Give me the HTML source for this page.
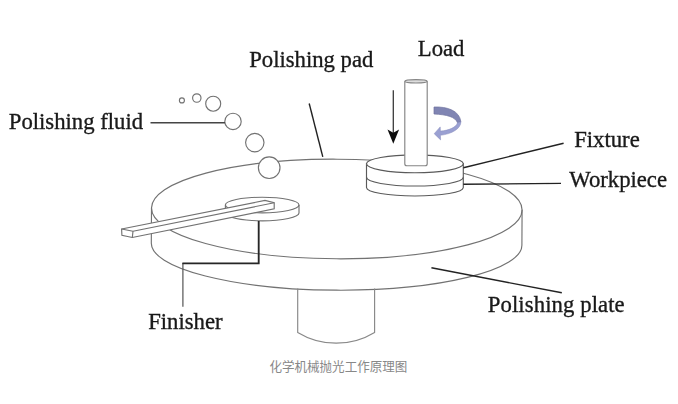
<!DOCTYPE html>
<html><head><meta charset="utf-8">
<style>
html,body{margin:0;padding:0;background:#fff;}
body{width:678px;height:404px;overflow:hidden;position:relative;}
svg{position:absolute;left:0;top:0;display:block;}
.lbl{font-family:"Liberation Serif","Times New Roman",serif;font-size:22.7px;fill:#1a1a1a;stroke:#1a1a1a;stroke-width:0.35px;}
.cap{position:absolute;left:-0.6px;top:357.6px;width:678px;text-align:center;font-family:"Liberation Sans","Noto Sans CJK SC",sans-serif;font-size:12.55px;line-height:18px;color:#888;}
</style></head>
<body>
<svg width="678" height="404" viewBox="0 0 678 404">
<defs><filter id="b" x="-5%" y="-5%" width="110%" height="110%"><feGaussianBlur stdDeviation="0.45"/></filter></defs>
<g filter="url(#b)">
<g fill="none" stroke="#727272" stroke-width="1.15">
  <!-- main plate -->
  <g transform="rotate(0.3 336.7 226)">
  <ellipse cx="336.7" cy="209" rx="185.3" ry="49.8" />
  <path d="M151.4 208.7 V244.2 A185.3 46 0 0 0 522 244.2 V208.7" />
  </g>
  <!-- shaft -->
  <path d="M297.7 288.5 V332.4 A74 74 0 0 0 374.6 332.4 V288.5" stroke="#888"/>
  <!-- finisher disc -->
  <ellipse cx="262.2" cy="205" rx="36.8" ry="7.8" fill="#fff"/>
  <path d="M225.4 205 V213 A36.8 7.8 0 0 0 299 213 V205" />
  <!-- arm -->
  <path d="M121.6 229 L265 200.4 L274.2 202.8 L274.2 208.8 L132.3 237.5 L121.9 235.3 Z" fill="#fff"/>
  <path d="M133 231.3 L274.2 202.8 M133 231.3 L132.3 237.5 M121.6 229 L133 231.3"/>
  <!-- fixture -->
  <g stroke="#5a5a5a"><path d="M366.5 163.5 V187.5 A48.4 8.5 0 0 0 463.3 187.5 V163.5 Z" fill="#fff"/>
  <ellipse cx="414.9" cy="163.8" rx="48.4" ry="8.9" fill="#fff"/>
  <path d="M366.5 177.3 A48.4 8.7 0 0 0 463.3 177.3"/></g>
  <!-- rod -->
  <g stroke="#858585"><path d="M404.8 81.3 V163.7 Q404.8 165.7 406.8 165.7 H425.2 Q427.2 165.7 427.2 163.7 V81.3" fill="#fff"/>
  <ellipse cx="416" cy="81.3" rx="11.2" ry="1.7" fill="#ddd"/></g>
  <!-- bubbles -->
  <circle cx="181.9" cy="100.4" r="2.5" fill="#fff"/>
  <circle cx="196.8" cy="98" r="4.2" fill="#fff"/>
  <circle cx="213.2" cy="103.7" r="7.5" fill="#fff"/>
  <circle cx="233" cy="121.4" r="8.2" fill="#fff"/>
  <circle cx="254.8" cy="142.6" r="9.2" fill="#fff"/>
  <circle cx="269.2" cy="167.7" r="10.8" fill="#fff"/>
</g>
<g fill="none" stroke="#222" stroke-width="1.4">
  <path d="M150.5 122.8 H225" stroke="#444"/>
  <path d="M309.2 103.5 L322.8 156.8"/>
  <path d="M463.4 167.8 L563.6 143.2"/>
  <path d="M463.4 184.3 L561 183.4"/>
  <path d="M431.4 267.8 L561.8 292.8"/>
  <path d="M182.9 263 V306.8" stroke-width="1.2" stroke="#555"/>
  <path d="M258.7 221 V263.4 H182.4" stroke-width="1.85" stroke="#262626"/>
  <path d="M393.3 90.2 V133" stroke="#3a3a3a" stroke-width="1.3"/>
</g>
<path d="M393.3 143.8 L387.5 129.6 L393.3 132.8 L399.1 129.6 Z" fill="#111"/>
<!-- rotation arrow -->
<path d="M434 107 C447 106.5 459.5 110.5 460.9 121.8 L457.5 122.8 C455.5 117 447 114.6 434 114 Z" fill="#8085b3" stroke="#6d719d" stroke-width="0.7"/>
<path d="M460.9 121.8 C461 128.5 452 134 440.4 135.3 L440.6 139.9 L434.2 133.7 L440.2 126.9 L440.4 131.1 C449 130.5 456.5 127 457.5 122.8 Z" fill="#9aa0d2" stroke="#8489bb" stroke-width="0.5"/>
<g class="lbl">
  <text x="249.2" y="67">Polishing pad</text>
  <text x="417.8" y="55.7">Load</text>
  <text x="8.8" y="129">Polishing fluid</text>
  <text x="574.2" y="147">Fixture</text>
  <text x="569.3" y="186.6">Workpiece</text>
  <text x="148.2" y="329">Finisher</text>
  <text x="487.8" y="312.3" letter-spacing="0.1">Polishing plate</text>
</g>
</g>
</svg>
<div class="cap">化学机械抛光工作原理图</div>
</body></html>
